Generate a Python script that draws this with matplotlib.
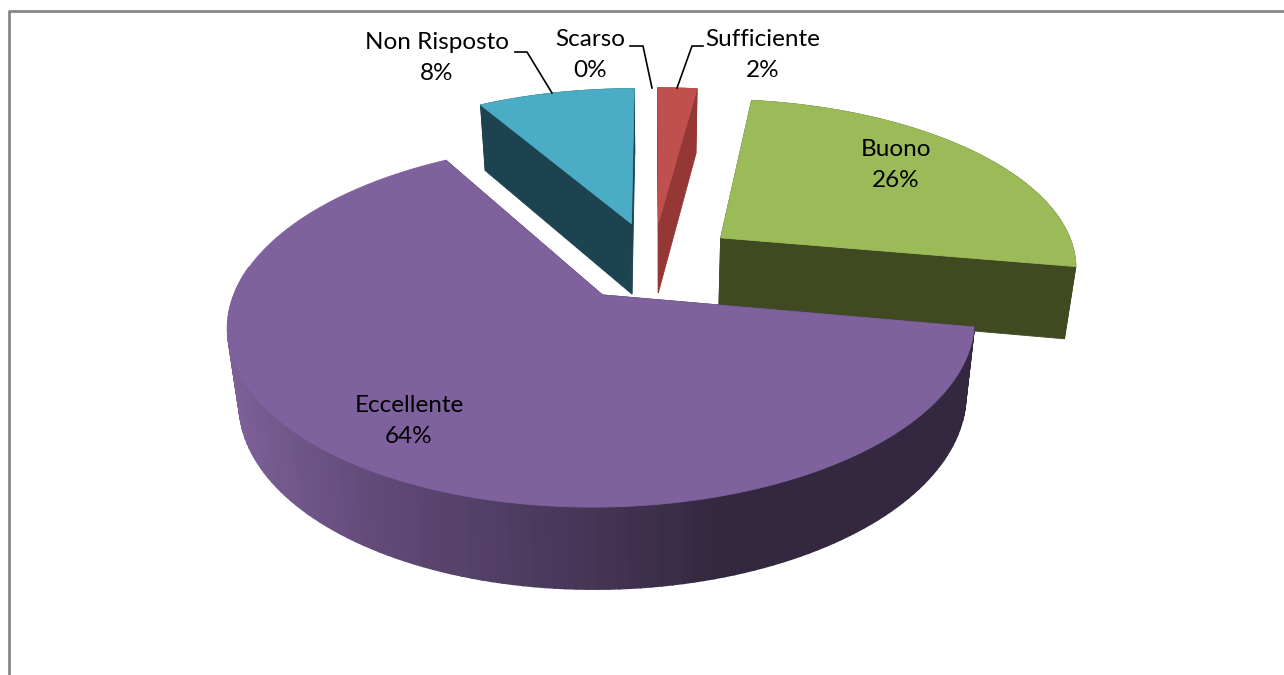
import numpy as np
import matplotlib
matplotlib.use("Agg")
import matplotlib.pyplot as plt
from matplotlib.colors import LinearSegmentedColormap

categories = ["Scarso", "Sufficiente", "Buono", "Eccellente", "Non Risposto"]
# shares, the labels show them rounded
values = [0, 2.1, 25.7, 63.8, 8.4]
top_colors = ["#c0504d", "#c0504d", "#9bbb59", "#7f619d", "#4bacc6"]
side_colors = ["#953735", "#953735", "#3f4a20", "#33283f", "#1d4350"]

# where the labels sit (text centre) and their leader lines, in pixels
label_xy = {"Scarso": (590, 55), "Sufficiente": (763, 55), "Buono": (896, 165),
            "Eccellente": (409, 421), "Non Risposto": (437, 58)}
leaders = {"Scarso": [(630, 46), (643, 46), (652, 88)],
           "Sufficiente": [(703, 46), (692, 46), (677, 88)],
           "Non Risposto": [(515, 52), (527, 52), (552, 93)]}

# fake 3d camera, numbers fitted on the picture
cx, cy = 653, 261
rx, ry = 357, 167
persp = 0.157
depth = 72
bottom_scale = 0.973
explode = 0.24

side_cmap = LinearSegmentedColormap.from_list(
    "side", [(0, "#7d6198"), (0.3, "#614a78"), (0.72, "#463657"), (1, "#33283f")])


def project(u, v, low=False):
    w = 1 + persp * v
    x = rx * u / w
    y = -ry * v / w
    if low:
        return cx + x * bottom_scale, cy + y * bottom_scale + depth / w
    return cx + x, cy + y


def ring(a0, a1, off):
    t = np.radians(np.linspace(a0, a1, 160))
    return off[0] + np.sin(t), off[1] + np.cos(t)


def poly(ax, xs, ys, color, z, lw=0.6):
    ax.fill(xs, ys, color=color, lw=lw, zorder=z)


fig = plt.figure(figsize=(12.84, 6.75), dpi=100)
ax = fig.add_axes([0, 0, 1, 1])
ax.set_xlim(0, 1284)
ax.set_ylim(675, 0)
ax.axis("off")

# chart area border: only top and left fall inside the picture
ax.plot([8.5, 8.5, 1284], [675, 10.5, 10.5], color="#868686", lw=2, zorder=1)

# slices back to front
edges = np.cumsum([0] + values) * 3.6
order = [4, 1, 2, 3]
for z, i in enumerate(order):
    a0, a1 = edges[i], edges[i + 1]
    mid = np.radians((a0 + a1) / 2)
    off = (explode * np.sin(mid), explode * np.cos(mid))
    base = 10 + z * 10
    u, v = ring(a0, a1, off)

    # flat cut faces
    for a in (a0, a1):
        t = np.radians(a)
        eu = np.array([off[0], off[0] + np.sin(t)])
        ev = np.array([off[1], off[1] + np.cos(t)])
        xt, yt = project(eu, ev)
        xb, yb = project(eu, ev, low=True)
        poly(ax, np.r_[xt, xb[::-1]], np.r_[yt, yb[::-1]], side_colors[i], base)

    # round outer wall, in short strips so it can carry the shading
    xt, yt = project(u, v)
    xb, yb = project(u, v, low=True)
    if categories[i] == "Eccellente":
        # left to right so each strip covers the seam of the one before
        for k in range(len(u) - 2, -1, -1):
            if v[k] > -0.05:
                continue
            col = side_cmap(np.clip((xt[k] - 225) / (730 - 225), 0, 1))
            poly(ax, [xt[k], xt[k + 1], xb[k + 1], xb[k]],
                 [yt[k], yt[k + 1], yb[k + 1], yb[k]], col, base + 1, lw=1.2)
    else:
        poly(ax, np.r_[xt, xb[::-1]], np.r_[yt, yb[::-1]], side_colors[i], base + 1)

    # top face
    ox, oy = project(np.array([off[0]]), np.array([off[1]]))
    poly(ax, np.r_[ox, xt], np.r_[oy, yt], top_colors[i], base + 2)

for name, pts in leaders.items():
    xs, ys = zip(*pts)
    ax.plot(xs, ys, color="black", lw=1.2, zorder=60)

for name, val in zip(categories, values):
    ax.text(label_xy[name][0], label_xy[name][1], f"{name}\n{val:.0f}%", ha="center", va="center",
            fontsize=17.5, family="Lato", linespacing=1.6, color="black", zorder=70)

fig.savefig("out.png", dpi=100)
